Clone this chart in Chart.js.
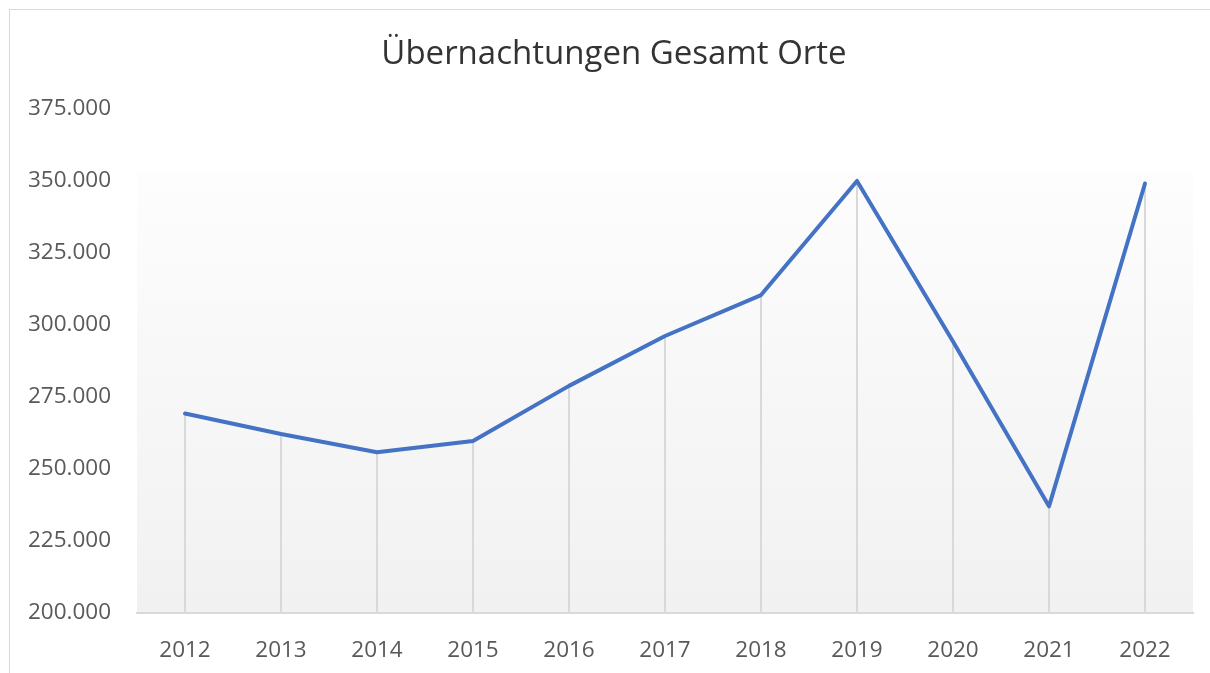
<!DOCTYPE html>
<html lang="de">
<head>
<meta charset="utf-8">
<title>Übernachtungen Gesamt Orte</title>
<script src="https://cdn.jsdelivr.net/npm/chart.js@4"></script>
<style>
  html, body { margin: 0; padding: 0; background: #fff; overflow: hidden; }
  #rahmen { position: absolute; left: 9px; top: 9px; width: 2000px; height: 1200px; border: 1px solid #d9d9d9; }
  #wrap { position: absolute; left: 0; top: 0; width: 1210px; height: 673px; }
</style>
</head>
<body>
<div id="rahmen"></div>
<div id="wrap"><canvas id="chart"></canvas></div>
<script>
// Übernachtungen gesamt, Werte
const jahre = ['2012', '2013', '2014', '2015', '2016', '2017', '2018', '2019', '2020', '2021', '2022'];
const uebernachtungen = [269200, 262100, 255800, 259700, 278800, 296100, 310300, 349900, 294200, 237000, 349000];
const yMin = 200000, yMax = 375000, yStep = 25000;

const fmt = v => v.toLocaleString('de-DE');

// Hintergrund im Plotbereich (Verlauf weiß -> hellgrau)
const plotHintergrund = {
    id: 'plotHintergrund',
    beforeDraw(chart) {
        const { ctx, chartArea: a, scales } = chart;
        const top = scales.y.getPixelForValue(352700);
        const g = ctx.createLinearGradient(0, top, 0, a.bottom);
        g.addColorStop(0, '#fdfdfd');
        g.addColorStop(1, '#f1f1f1');
        ctx.save();
        ctx.fillStyle = g;
        ctx.fillRect(a.left, top, a.right - a.left, a.bottom - top);
        ctx.restore();
    }
};

// Lotlinien von jedem Punkt bis zur x-Achse
const lotlinien = {
    id: 'lotlinien',
    beforeDatasetsDraw(chart) {
        const { ctx, chartArea: a } = chart;
        const meta = chart.getDatasetMeta(0);
        ctx.save();
        ctx.strokeStyle = '#d9d9d9';
        ctx.lineWidth = 2;
        meta.data.forEach(p => {
            ctx.beginPath();
            ctx.moveTo(Math.round(p.x), p.y);
            ctx.lineTo(Math.round(p.x), a.bottom);
            ctx.stroke();
        });
        ctx.restore();
    }
};

// Titel über dem ganzen Rahmen zentrieren, nicht nur über dem Platz links vom Rand
const titelMitte = {
    id: 'titelMitte',
    afterLayout(chart) {
        if (chart.titleBlock) chart.titleBlock.left = 35;
    }
};

const ctx = document.getElementById('chart').getContext('2d');
new Chart(ctx, {
    type: 'line',
    data: {
        labels: jahre,
        datasets: [{
            label: 'Übernachtungen',
            data: uebernachtungen,
            borderColor: '#4472C4',
            borderWidth: 4,
            pointRadius: 0,
            tension: 0,
            fill: false,
            borderJoinStyle: 'round',
            borderCapStyle: 'round'
        }]
    },
    options: {
        responsive: true,
        maintainAspectRatio: false,
        animation: false,
        layout: { padding: { left: 0, right: 17, top: 0, bottom: 0 } },
        plugins: {
            legend: { display: false },
            tooltip: { enabled: false },
            title: {
                display: true,
                text: 'Übernachtungen Gesamt Orte',
                color: '#333333',
                font: { family: '"Open Sans", "Noto Sans", sans-serif', size: 33, weight: '400' },
                padding: { top: 35, bottom: 34 }
            }
        },
        scales: {
            x: {
                offset: true,
                grid: { display: false, drawTicks: false },
                border: { display: true, color: '#d9d9d9', width: 2 },
                ticks: {
                    color: '#595959',
                    padding: 24,
                    font: { family: '"Open Sans", "Noto Sans", sans-serif', size: 22.5 }
                },
                afterFit(scale) { scale.height = 60; }
            },
            y: {
                min: yMin,
                max: yMax,
                grid: { display: false, drawTicks: false },
                border: { display: false },
                ticks: {
                    stepSize: yStep,
                    color: '#595959',
                    padding: 26,
                    font: { family: '"Open Sans", "Noto Sans", sans-serif', size: 22.5 },
                    callback: v => fmt(v)
                },
                afterFit(scale) { scale.width = 137; }
            }
        }
    },
    plugins: [plotHintergrund, lotlinien, titelMitte]
});
</script>
</body>
</html>
